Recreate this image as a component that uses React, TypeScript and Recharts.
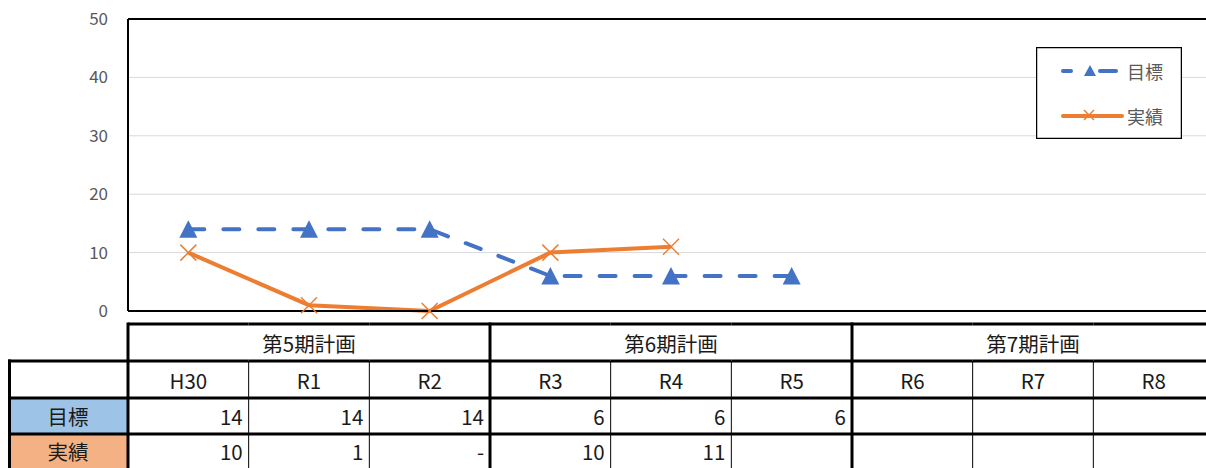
import React from "react";
import {
  ComposedChart,
  Line,
  XAxis,
  YAxis,
  CartesianGrid,
  Legend,
  ReferenceLine,
} from "recharts";

const categories = ["H30", "R1", "R2", "R3", "R4", "R5", "R6", "R7", "R8"];
const targetValues: (number | null)[] = [14, 14, 14, 6, 6, 6, null, null, null];
const actualValues: (number | null)[] = [10, 1, 0, 10, 11, null, null, null, null];
const targetLabels = ["14", "14", "14", "6", "6", "6", "", "", ""];
const actualLabels = ["10", "1", "-", "10", "11", "", "", "", ""];
const periodNames = ["第5期計画", "第6期計画", "第7期計画"];
const seriesNames = ["目標", "実績"];
const yTicks = [0, 10, 20, 30, 40, 50];

const data = categories.map((c, i) => ({
  cat: c,
  target: targetValues[i],
  actual: actualValues[i],
}));

const CHART_W = 1206;
const CHART_H = 468;
const PLOT_LEFT = 120;
const BAND = (CHART_W - PLOT_LEFT) / categories.length;

const ROW0 = 324;
const ROW1 = 361;
const ROW2 = 398;
const ROW3 = 434;
const BOTTOM = 474;

const BLUE = "#4472C4";
const ORANGE = "#ED7D31";
const FONT = "'Noto Sans CJK JP', 'Noto Sans', sans-serif";
const TFS = 20.5;
const TXT = "#1a1a1a";

function TableTick(props: any) {
  const { x, payload } = props;
  const i: number = payload.index ?? props.index;
  const left = x - BAND / 2;
  const right = x + BAND / 2;
  const els: React.ReactNode[] = [];
  if (i === 0) {
    els.push(
      <rect key="lb" x={0} y={ROW2} width={left} height={ROW3 - ROW2} fill="#9DC3E6" />,
      <rect key="lo" x={0} y={ROW3} width={left} height={BOTTOM - ROW3} fill="#F4B183" />,
      <line key="l1" x1={0} x2={left} y1={ROW1} y2={ROW1} stroke="#000" strokeWidth={3} />,
      <line key="l2" x1={0} x2={left} y1={ROW2} y2={ROW2} stroke="#000" strokeWidth={3} />,
      <line key="l3" x1={0} x2={left} y1={ROW3} y2={ROW3} stroke="#000" strokeWidth={3} />,
      <line key="lv" x1={1.5} x2={1.5} y1={ROW1 - 1.5} y2={BOTTOM} stroke="#000" strokeWidth={3} />,
      <line key="lr" x1={left} x2={left} y1={ROW0 - 1.5} y2={BOTTOM} stroke="#000" strokeWidth={3} />,
      <text key="lt1" x={left / 2} y={(ROW2 + ROW3) / 2} textAnchor="middle" dominantBaseline="central" fontSize={TFS} fill={TXT} fontFamily={FONT}>
        {seriesNames[0]}
      </text>,
      <text key="lt2" x={left / 2} y={(ROW3 + BOTTOM) / 2 - 3} textAnchor="middle" dominantBaseline="central" fontSize={TFS} fill={TXT} fontFamily={FONT}>
        {seriesNames[1]}
      </text>
    );
  }
  if (i % 3 === 0) {
    els.push(
      <text key="g" x={left + (BAND * 3) / 2} y={(ROW0 + ROW1) / 2} textAnchor="middle" dominantBaseline="central" fontSize={TFS} fill={TXT} fontFamily={FONT}>
        {periodNames[i / 3]}
      </text>
    );
  }
  els.push(
    <line key="h0" x1={left} x2={right} y1={ROW0} y2={ROW0} stroke="#000" strokeWidth={3} />,
    <line key="h1" x1={left} x2={right} y1={ROW1} y2={ROW1} stroke="#000" strokeWidth={3} />,
    <line key="h2" x1={left} x2={right} y1={ROW2} y2={ROW2} stroke="#000" strokeWidth={3} />,
    <line key="h3" x1={left} x2={right} y1={ROW3} y2={ROW3} stroke="#000" strokeWidth={3} />
  );
  if (i % 3 === 2) {
    els.push(<line key="v" x1={right} x2={right} y1={ROW0 - 1.5} y2={BOTTOM} stroke="#000" strokeWidth={3} />);
  } else {
    els.push(<line key="v" x1={right} x2={right} y1={ROW1} y2={BOTTOM} stroke="#000" strokeWidth={1} />);
  }
  els.push(
    <text key="c" x={x} y={(ROW1 + ROW2) / 2} textAnchor="middle" dominantBaseline="central" fontSize={TFS} fill={TXT} fontFamily={FONT}>
      {payload.value}
    </text>,
    <text key="t" x={right - 6} y={(ROW2 + ROW3) / 2} textAnchor="end" dominantBaseline="central" fontSize={TFS} fill={TXT} fontFamily={FONT}>
      {targetLabels[i]}
    </text>,
    <text key="a" x={right - 6} y={(ROW3 + BOTTOM) / 2 - 3} textAnchor="end" dominantBaseline="central" fontSize={TFS} fill={TXT} fontFamily={FONT}>
      {actualLabels[i]}
    </text>
  );
  return <g>{els}</g>;
}

const TriangleDot = (props: any) => {
  const { cx, cy, index } = props;
  if (cx == null || cy == null || props.value == null) return <g key={`t${index}`} />;
  return (
    <path
      key={`t${index}`}
      d={`M${cx},${cy - 9} L${cx + 9},${cy + 8.5} L${cx - 9},${cy + 8.5} Z`}
      fill={BLUE}
    />
  );
};

const CrossDot = (props: any) => {
  const { cx, cy, index } = props;
  if (cx == null || cy == null || props.value == null) return <g key={`x${index}`} />;
  return (
    <g key={`x${index}`}>
      <line x1={cx - 8} y1={cy - 8} x2={cx + 8} y2={cy + 8} stroke={ORANGE} strokeWidth={1.5} />
      <line x1={cx - 8} y1={cy + 8} x2={cx + 8} y2={cy - 8} stroke={ORANGE} strokeWidth={1.5} />
    </g>
  );
};

const LegendBox = () => (
  <svg width={146} height={92} style={{ display: "block" }}>
    <rect x={0.5} y={0.5} width={145} height={91} fill="#fff" stroke="#000" strokeWidth={1.5} />
    <line x1={27} x2={35} y1={24} y2={24} stroke={BLUE} strokeWidth={4} strokeLinecap="round" />
    <line x1={64} x2={80} y1={24} y2={24} stroke={BLUE} strokeWidth={4} strokeLinecap="round" />
    <path d="M54,18 L60,29 L48,29 Z" fill={BLUE} />
    <text x={91} y={24} dominantBaseline="central" fontSize={18} fill="#595959" fontFamily={FONT}>
      {seriesNames[0]}
    </text>
    <line x1={27} x2={86} y1={69} y2={69} stroke={ORANGE} strokeWidth={4} strokeLinecap="round" />
    <line x1={48} y1={63} x2={58} y2={73} stroke={ORANGE} strokeWidth={1.5} />
    <line x1={48} y1={73} x2={58} y2={63} stroke={ORANGE} strokeWidth={1.5} />
    <text x={91} y={69} dominantBaseline="central" fontSize={18} fill="#595959" fontFamily={FONT}>
      {seriesNames[1]}
    </text>
  </svg>
);

export default function App() {
  return (
    <div
      style={{
        width: 1206,
        height: 468,
        boxSizing: "border-box",
        paddingLeft: 8,
        overflow: "hidden",
        position: "relative",
        background: "#fff",
      }}
    >
      <style>{"html,body{margin:0;padding:0;overflow:hidden;}"}</style>
      <ComposedChart
        width={CHART_W}
        height={CHART_H}
        data={data}
        margin={{ top: 19, right: 0, bottom: 0, left: 0 }}
        style={{ fontFamily: FONT }}
      >
        <CartesianGrid horizontal vertical={false} stroke="#D9D9D9" strokeWidth={1} />
        <XAxis
          dataKey="cat"
          scale="band"
          height={CHART_H - 311}
          interval={0}
          tickLine={false}
          axisLine={{ stroke: "#000", strokeWidth: 2 }}
          tick={<TableTick />}
        />
        <YAxis
          width={PLOT_LEFT}
          domain={[0, 50]}
          ticks={yTicks}
          tickLine={false}
          tickSize={0}
          tickMargin={20}
          axisLine={{ stroke: "#000", strokeWidth: 2 }}
          tick={{ fill: "#595959", fontSize: 17, fontFamily: FONT }}
        />
        <ReferenceLine y={50} stroke="#000" strokeWidth={2} />
        <Legend
          layout="vertical"
          align="center"
          verticalAlign="middle"
          content={() => <LegendBox />}
          wrapperStyle={{ left: 1028, top: 47, width: 146, height: 92 }}
        />
        <Line
          dataKey="actual"
          name={seriesNames[1]}
          stroke={ORANGE}
          strokeWidth={4}
          dot={<CrossDot />}
          activeDot={false}
          isAnimationActive={false}
        />
        <Line
          dataKey="target"
          name={seriesNames[0]}
          stroke={BLUE}
          strokeWidth={4}
          strokeDasharray="16 19"
          strokeLinecap="round"
          dot={<TriangleDot />}
          activeDot={false}
          isAnimationActive={false}
        />
      </ComposedChart>
    </div>
  );
}
